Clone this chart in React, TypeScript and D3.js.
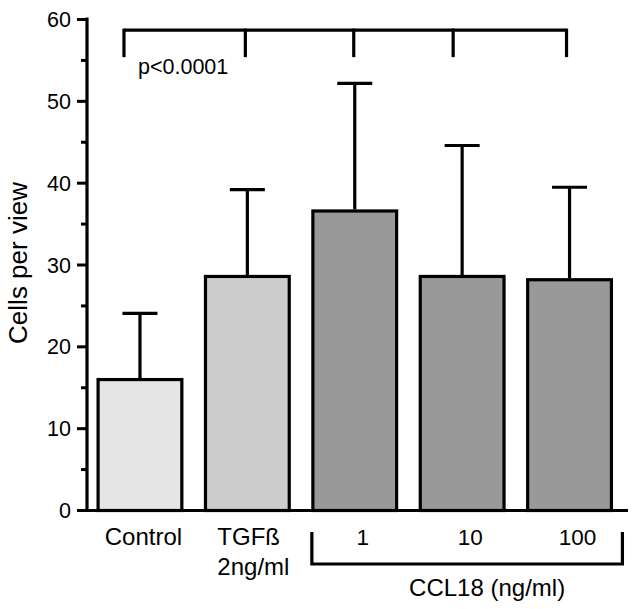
import React from "react";
import * as d3 from "d3";

const categories = ["Control", "TGFß", "1", "10", "100"];
const subLabels = ["", "2ng/ml", "", "", ""];
const means = [16.0, 28.6, 36.6, 28.6, 28.2];
const upperErr = [24.1, 39.2, 52.2, 44.6, 39.5];
const fills = ["#e5e5e5", "#cccccc", "#999999", "#999999", "#999999"];
const yTicks = [0, 10, 20, 30, 40, 50, 60];
const yMinorTicks = [5, 15, 25, 35, 45, 55];
const groupLabel = "CCL18 (ng/ml)";
const pLabel = "p<0.0001";
const yLabel = "Cells per view";

const W = 636;
const H = 609;
const FONT = "'Liberation Sans', Arial, Helvetica, sans-serif";

export default function App() {
  const y = d3.scaleLinear().domain([0, 60]).range([510.5, 19.5]);
  const x = d3
    .scaleBand<string>()
    .domain(categories)
    .range([76.6, 632.9])
    .paddingInner(0.22)
    .paddingOuter(0.2);
  const bw = x.bandwidth();
  const cx = (c: string) => (x(c) as number) + bw / 2;
  const axisX = 87;
  const baseY = y(0);

  const bracketY = y(58.7);
  const bracketDrop = y(55.4);
  const bracketOffsets = [-16, -2, -1, -9, -3];
  const bxs = categories.map((c, i) => cx(c) + bracketOffsets[i]);

  const gLeft = (x(categories[2]) as number) - 1;
  const gRight = (x(categories[4]) as number) + bw + 11;

  return (
    <svg
      width={W}
      height={H}
      style={{ position: "absolute", left: 0, top: 0, background: "#fff" }}
      fontFamily={FONT}
    >
      <rect x={0} y={0} width={W} height={H} fill="#fff" />
      {/* bars */}
      {categories.map((c, i) => (
        <rect
          key={c}
          x={x(c)}
          y={y(means[i])}
          width={bw}
          height={baseY - y(means[i])}
          fill={fills[i]}
          stroke="#000"
          strokeWidth={3.2}
        />
      ))}
      {/* error bars */}
      {categories.map((c, i) => (
        <g key={"e" + c} stroke="#000" strokeWidth={3.2}>
          <line x1={cx(c)} x2={cx(c)} y1={y(means[i]) - 1.5} y2={y(upperErr[i])} />
          <line x1={cx(c) - 17.5} x2={cx(c) + 17.5} y1={y(upperErr[i])} y2={y(upperErr[i])} />
        </g>
      ))}
      {/* y axis */}
      <line x1={axisX} x2={axisX} y1={y(60) - 2} y2={baseY + 1.5} stroke="#000" strokeWidth={3.2} />
      <line x1={axisX - 1.5} x2={628} y1={baseY} y2={baseY} stroke="#000" strokeWidth={3.2} />
      {yTicks.map((t) => (
        <g key={"t" + t}>
          <line x1={axisX - 10} x2={axisX} y1={y(t)} y2={y(t)} stroke="#000" strokeWidth={3} />
          <text
            x={71}
            y={y(t)}
            dy="0.35em"
            textAnchor="end"
            fontSize={21.5}
            fill="#000"
          >
            {t}
          </text>
        </g>
      ))}
      {yMinorTicks.map((t) => (
        <line key={"m" + t} x1={axisX - 6} x2={axisX} y1={y(t)} y2={y(t)} stroke="#000" strokeWidth={3} />
      ))}
      <text
        transform={`translate(27,263) rotate(-90)`}
        textAnchor="middle"
        fontSize={26}
        fill="#000"
      >
        {yLabel}
      </text>
      {/* top bracket */}
      <g stroke="#000" strokeWidth={3.2} fill="none">
        <line x1={bxs[0]} x2={bxs[bxs.length - 1]} y1={bracketY} y2={bracketY} />
        {bxs.map((bx, i) => (
          <line key={"b" + i} x1={bx} x2={bx} y1={bracketY - 1.5} y2={bracketDrop} />
        ))}
      </g>
      <text x={138} y={74} fontSize={21.5} fill="#000">
        {pLabel}
      </text>
      {/* category labels */}
      {categories.map((c, i) => (
        <g key={"l" + c}>
          <text
            x={cx(c) + (i === 1 ? -30 : i === 0 ? 3.5 : 8)}
            y={545}
            textAnchor={i === 1 ? "start" : "middle"}
            fontSize={i < 2 ? 24 : 22.5}
            fill="#000"
          >
            {c}
          </text>
          {subLabels[i] && (
            <text x={cx(c) - 30} y={575} textAnchor="start" fontSize={24} fill="#000">
              {subLabels[i]}
            </text>
          )}
        </g>
      ))}
      {/* group bracket */}
      <path
        d={`M${gLeft},532 V564 H${gRight} V532`}
        fill="none"
        stroke="#000"
        strokeWidth={3.2}
      />
      <text x={(gLeft + gRight) / 2 + 20} y={596} textAnchor="middle" fontSize={24} fill="#000">
        {groupLabel}
      </text>
    </svg>
  );
}
